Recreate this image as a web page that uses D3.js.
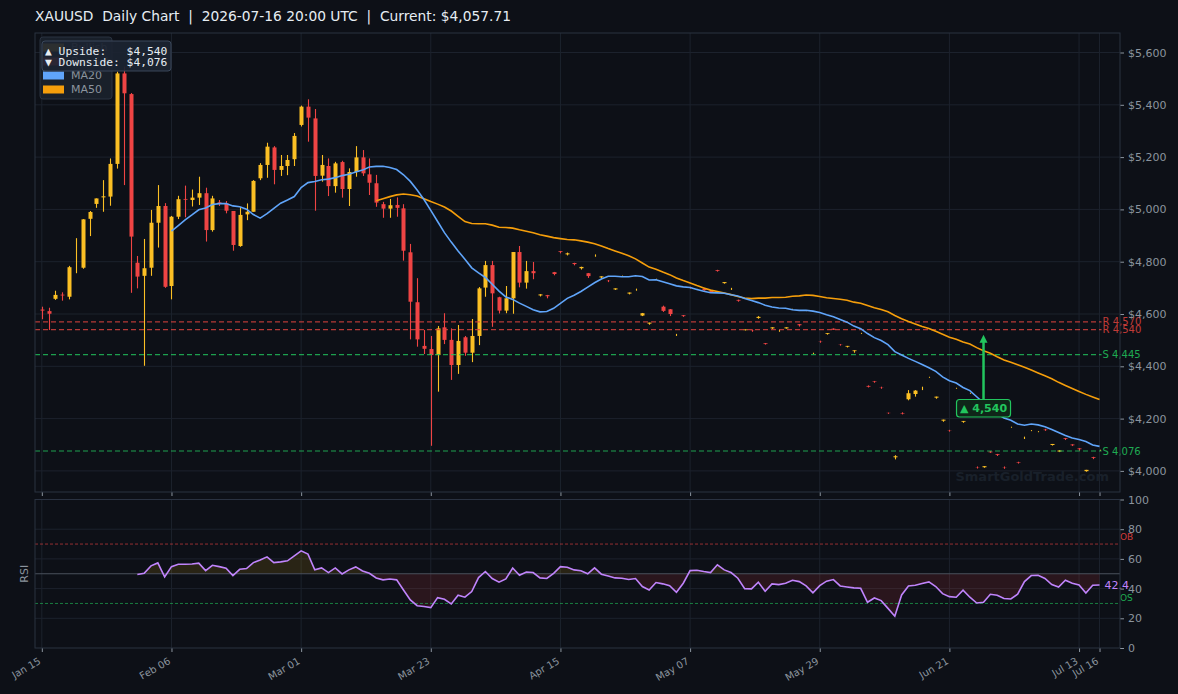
<!DOCTYPE html>
<html><head><meta charset="utf-8">
<script src="https://cdn.jsdelivr.net/npm/d3@7"></script>
<style>
html,body{margin:0;padding:0;background:#0d1017;}
svg{display:block;font-family:"DejaVu Sans",sans-serif;}
</style></head><body>
<svg id="chart" width="1178" height="694"></svg>
<script>
// ---------- DATA ----------
const tickIndex  = [0, 19, 38, 57, 76, 95, 114, 133, 152, 155];
const tickLabels = ["Jan 15","Feb 06","Mar 01","Mar 23","Apr 15","May 07","May 29","Jun 21","Jul 13","Jul 16"];
const priceTicks = [4000, 4200, 4400, 4600, 4800, 5000, 5200, 5400, 5600];
const rsiTicks   = [0, 20, 40, 60, 80, 100];

const opens = [
4617,4611,4658,4674,4666,4770,4777,4964,5021,5046,
5049,5174,5520,5441,4796,4746,4777,4949,5013,4707,
4972,5040,5036,5045,5062,4921,5027,5023,4994,4860,
4981,4991,5119,5170,5237,5151,5166,5192,5323,5393,
5348,5129,5166,5089,5181,5078,5143,5199,5134,5100,
5020,5003,5017,5004,4836,4645,4478,4466,4443,4549,
4501,4405,4511,4452,4516,4701,4787,4664,4613,4660,
4837,4720,4764,4671,4672,4760,4840,4828,4795,4775,
4756,4823,4740,4727,4694,4745,4678,4693,4594,4563,
4733,4628,4618,4520,4595,4701,4694,4697,4689,4768,
4718,4696,4654,4538,4537,4585,4488,4545,4536,4545,
4618,4561,4613,4450,4495,4524,4544,4483,4475,4458,
4526,4325,4343,4320,4222,4052,4221,4274,4294,4315,
4358,4280,4192,4155,4316,4188,4297,4014,4014,4074,
4064,4013,4167,4033,4127,4154,4150,4158,4099,4074,
4125,4101,4086,3999,4053,4079];
const highs = [
4628,4624,4689,4683,4784,4890,4963,4994,5042,5112,
5195,5527,5546,5445,4822,4887,4998,5093,5024,4975,
5052,5091,5076,5125,5083,5052,5036,5032,4994,5008,
5023,5112,5177,5255,5242,5208,5208,5292,5397,5421,
5384,5208,5195,5182,5186,5157,5242,5227,5195,5132,
5029,5040,5046,5020,4868,4737,4539,4516,4554,4603,
4545,4558,4516,4581,4703,4803,4803,4666,4707,4837,
4860,4803,4799,4676,4673,4761,4841,4835,4796,4781,
4757,4828,4744,4730,4698,4747,4682,4697,4604,4567,
4735,4632,4619,4524,4596,4704,4696,4698,4690,4769,
4722,4700,4655,4541,4541,4592,4489,4549,4540,4549,
4620,4562,4615,4452,4498,4527,4545,4485,4478,4461,
4528,4327,4344,4322,4223,4060,4224,4309,4309,4322,
4360,4284,4196,4157,4318,4191,4299,4017,4018,4076,
4065,4017,4169,4035,4131,4156,4152,4161,4103,4080,
4126,4102,4087,4004,4054,4081];
const lows = [
4580,4539,4654,4651,4656,4756,4773,4898,5006,4991,
5014,5156,5093,4681,4698,4402,4746,4854,4700,4656,
4963,4970,5011,5017,4877,4915,5013,4985,4842,4857,
4959,4991,5112,5121,5096,5128,5131,5166,5317,5259,
4995,5106,5051,5064,5045,5013,5125,5128,5055,5010,
4968,4968,4972,4804,4503,4475,4447,4096,4303,4485,
4348,4371,4440,4416,4481,4666,4551,4602,4603,4601,
4702,4697,4733,4667,4660,4748,4832,4824,4786,4770,
4738,4819,4736,4722,4692,4743,4675,4689,4592,4559,
4731,4608,4592,4516,4589,4697,4692,4689,4681,4762,
4716,4692,4647,4537,4532,4582,4483,4543,4532,4544,
4616,4552,4611,4447,4490,4521,4539,4479,4472,4452,
4524,4319,4337,4314,4218,4044,4216,4270,4284,4309,
4356,4276,4188,4150,4314,4184,4295,4009,4012,4069,
4057,4008,4165,4028,4122,4152,4148,4153,4097,4072,
4118,4095,4077,3997,4045,4077];
const closes = [
4613,4601,4673,4671,4779,4770,4962,4990,5042,5050,
5174,5520,5444,4896,4743,4775,4949,5013,4704,4972,
5039,5037,5045,5062,4921,5042,5024,4995,4864,4979,
4991,5109,5170,5240,5151,5166,5189,5281,5393,5351,
5128,5170,5089,5176,5078,5143,5199,5138,5102,5026,
5003,5016,5006,4842,4647,4503,4467,4443,4545,4501,
4405,4497,4452,4516,4698,4787,4679,4613,4660,4837,
4720,4764,4756,4675,4668,4753,4837,4832,4791,4780,
4745,4823,4744,4726,4698,4745,4682,4693,4603,4567,
4733,4612,4600,4520,4592,4700,4694,4691,4683,4765,
4722,4696,4651,4541,4536,4589,4485,4549,4536,4549,
4618,4557,4613,4450,4494,4527,4540,4482,4478,4461,
4526,4322,4341,4319,4221,4056,4219,4297,4307,4315,
4358,4284,4196,4154,4316,4191,4297,4013,4018,4071,
4061,4012,4167,4031,4127,4154,4150,4156,4103,4078,
4122,4098,4083,4004,4050,4079];

const rsiStart = 14;
const rsiValues = [
49.5,50.3,55.3,57.3,47.9,54.8,56.4,56.4,56.6,57.1,
52.1,55.7,54.8,53.7,48.8,53.0,53.5,57.5,59.3,61.4,
57.5,58.0,58.7,62.0,65.4,63.2,52.6,53.9,50.8,53.9,
49.9,52.6,54.6,51.9,50.3,47.2,45.9,46.5,45.9,39.1,
32.4,28.5,27.9,27.2,33.9,32.8,29.7,35.5,34.2,38.0,
47.4,51.5,46.8,44.3,46.5,53.9,49.0,51.2,50.8,47.2,
46.8,50.3,54.8,54.4,52.6,52.0,50.0,54.0,49.7,48.5,
47.2,47.0,46.1,46.8,41.4,39.1,44.1,43.2,42.0,37.5,
43.6,52.1,52.4,51.5,50.8,56.0,52.6,50.8,47.0,40.0,
39.8,44.3,38.2,43.2,42.7,43.6,45.6,44.7,41.8,37.1,
42.0,45.0,46.1,41.8,41.1,40.5,40.2,30.8,33.7,31.9,
26.7,21.4,35.7,41.8,42.3,43.4,44.5,41.4,36.6,34.6,
34.2,38.9,34.2,30.3,30.8,36.2,35.5,33.3,33.0,36.2,
44.7,48.8,49.0,46.8,42.7,41.1,45.6,43.6,42.5,37.1,
42.3,42.4];

const levelValues = [4570, 4540, 4445, 4076];
const levelLabels = ["R 4,570", "R 4,540", "S 4,445", "S 4,076"];
const levelKinds  = ["R", "R", "S", "S"];

const upsideTarget = 4540, downsideTarget = 4076;
const titleText = "XAUUSD  Daily Chart  |  2026-07-16 20:00 UTC  |  Current: $4,057.71";

// ---------- STYLE ----------
const C = {
  bg:"#0d1017", grid:"#1c222d", border:"#2a3241", axis:"#8b949e", title:"#e6edf3",
  bull:"#fbbf24", bear:"#ef4444", ma20:"#60a5fa", ma50:"#f59e0b", rsi:"#c084fc",
  res:"#e0443f", sup:"#22c55e"
};
const svg = d3.select("#chart");
const L = 35, R = 1120, T = 33, B = 492, RT = 499.5, RB = 648;

const x  = d3.scaleLinear().domain([-1, 158]).range([L, R]);
const y  = d3.scaleLinear().domain([3919.3, 5674.6]).range([B, T]);
const yr = d3.scaleLinear().domain([0, 100]).range([RB, RT]);

svg.append("rect").attr("width",1178).attr("height",694).attr("fill",C.bg);

// title
svg.append("text").attr("x",35).attr("y",21).attr("fill",C.title)
  .style("white-space","pre").attr("font-size",13.8).text(titleText);

// ---------- MAIN PANEL ----------
const gMain = svg.append("g");
gMain.selectAll(".hg").data(priceTicks).join("line")
  .attr("x1",L).attr("x2",R).attr("y1",d=>y(d)).attr("y2",d=>y(d))
  .attr("stroke",C.grid).attr("stroke-width",1);
gMain.selectAll(".vg").data(tickIndex).join("line")
  .attr("x1",d=>x(d)).attr("x2",d=>x(d)).attr("y1",T).attr("y2",B)
  .attr("stroke",C.grid).attr("stroke-width",1);

// watermark
svg.append("text").attr("x",1109).attr("y",481).attr("text-anchor","end")
  .attr("font-size",13).attr("font-weight","bold").attr("fill","#19202a").text("SmartGoldTrade.com");

// candles
const idx = d3.range(closes.length);
const bodyW = 4;
const gC = svg.append("g");
gC.selectAll(".wick").data(idx).join("line")
  .attr("x1",i=>Math.round(x(i))+0.5).attr("x2",i=>Math.round(x(i))+0.5)
  .attr("y1",i=>y(highs[i])).attr("y2",i=>y(lows[i]))
  .attr("stroke",i=>closes[i]>=opens[i]?C.bull:C.bear).attr("stroke-width",1.1);
gC.selectAll(".body").data(idx).join("rect")
  .attr("x",i=>Math.round(x(i))+0.5-bodyW/2).attr("width",bodyW)
  .attr("y",i=>y(Math.max(opens[i],closes[i])))
  .attr("height",i=>Math.abs(y(opens[i])-y(closes[i])))
  .attr("fill",i=>closes[i]>=opens[i]?C.bull:C.bear);

// level lines
const lastX = x(closes.length-1)+2;
levelValues.forEach((v,k)=>{
  const col = levelKinds[k]==="R"?C.res:C.sup;
  svg.append("line").attr("x1",L).attr("x2",lastX).attr("y1",y(v)).attr("y2",y(v))
    .attr("stroke",col).attr("stroke-width",1.2).attr("stroke-dasharray","5,3").attr("opacity",0.8);
  svg.append("text").attr("x",lastX+1).attr("y",y(v)).attr("dy","0.35em")
    .attr("font-size",10).attr("fill",col).attr("opacity",0.85).text(levelLabels[k]);
});

// moving averages
function sma(arr,n){ return arr.map((_,i)=> i<n-1?null: d3.mean(arr.slice(i-n+1,i+1))); }
const ma20 = sma(closes,20), ma50 = sma(closes,50);
const maLine = d3.line().defined(d=>d[1]!==null).x(d=>x(d[0])).y(d=>y(d[1]));
svg.append("path").attr("d",maLine(ma50.map((v,i)=>[i,v]))).attr("fill","none")
  .attr("stroke",C.ma50).attr("stroke-width",1.6);
svg.append("path").attr("d",maLine(ma20.map((v,i)=>[i,v]))).attr("fill","none")
  .attr("stroke",C.ma20).attr("stroke-width",1.6);

// axes main
const axR = svg.append("g").attr("transform",`translate(${R},0)`)
  .call(d3.axisRight(y).tickValues(priceTicks).tickSize(4).tickPadding(4)
    .tickFormat(d=>"$"+d3.format(",")(d)));
axR.select(".domain").remove();
axR.selectAll("line").attr("stroke",C.axis);
axR.selectAll("text").attr("fill",C.axis).attr("font-size",11).attr("font-family","DejaVu Sans");

const axMB = svg.append("g").attr("transform",`translate(0,${B})`)
  .call(d3.axisBottom(x).tickValues(tickIndex).tickSize(4).tickFormat(""));
axMB.select(".domain").remove();
axMB.selectAll("line").attr("stroke",C.axis);

svg.append("rect").attr("x",L).attr("y",T).attr("width",R-L).attr("height",B-T)
  .attr("fill","none").attr("stroke",C.border);

// arrow annotation
const ax = x(138);
const arrowTop = y(upsideTarget)+5, arrowBot = 399.5;
svg.append("line").attr("x1",ax).attr("x2",ax).attr("y1",arrowBot).attr("y2",arrowTop+6)
  .attr("stroke",C.sup).attr("stroke-width",2.5);
svg.append("path").attr("d",`M${ax},${arrowTop} L${ax-4},${arrowTop+8} L${ax+4},${arrowTop+8} Z`)
  .attr("fill",C.sup);
svg.append("rect").attr("x",ax-27).attr("y",399.5).attr("width",54).attr("height",17.5).attr("rx",3)
  .attr("fill","#0f2619").attr("stroke",C.sup).attr("stroke-width",1.2);
svg.append("text").attr("x",ax).attr("y",408.5).attr("dy","0.36em").attr("text-anchor","middle")
  .attr("font-size",11).attr("font-weight","bold").attr("fill",C.sup)
  .text("▲ "+d3.format(",")(upsideTarget));

// legend
const legendNames = ["Bullish","Bearish","MA20","MA50"];
const legendColors = [C.bull, C.bear, C.ma20, C.ma50];
svg.append("rect").attr("x",40).attr("y",37).attr("width",72).attr("height",62).attr("rx",3)
  .attr("fill","#19202a").attr("stroke","#2a3240");
legendNames.forEach((n,k)=>{
  const cy = 47.5 + k*14;
  svg.append("rect").attr("x",43).attr("y",cy-4).attr("width",21).attr("height",8).attr("fill",legendColors[k]);
  svg.append("text").attr("x",71).attr("y",cy).attr("dy","0.35em").attr("font-size",11)
    .attr("fill",C.axis).text(n);
});
// target box
svg.append("rect").attr("x",42).attr("y",41).attr("width",129).attr("height",30).attr("rx",3)
  .attr("fill","#1c2431").attr("fill-opacity",0.93).attr("stroke","#3a475a");
const boxLines = ["▲ Upside:   $"+d3.format(",")(upsideTarget), "▼ Downside: $"+d3.format(",")(downsideTarget)];
boxLines.forEach((t,k)=>{
  svg.append("text").attr("x",45).attr("y",50.7+k*11.6).attr("dy","0.35em")
    .attr("font-family","DejaVu Sans Mono").attr("font-size",11.3).attr("fill",C.title)
    .style("white-space","pre").text(t);
});

// ---------- RSI PANEL ----------
svg.selectAll(".rg").data([20,40,60,80]).join("line")
  .attr("x1",L).attr("x2",R).attr("y1",d=>yr(d)).attr("y2",d=>yr(d))
  .attr("stroke",C.grid);
svg.selectAll(".rvg").data(tickIndex).join("line")
  .attr("x1",d=>x(d)).attr("x2",d=>x(d)).attr("y1",RT).attr("y2",RB)
  .attr("stroke",C.grid);

const rsiData = rsiValues.map((v,k)=>[k+rsiStart, v]);
const defs = svg.append("defs");
defs.append("clipPath").attr("id","clipUp").append("rect")
  .attr("x",L).attr("y",RT).attr("width",R-L).attr("height",yr(50)-RT);
defs.append("clipPath").attr("id","clipDn").append("rect")
  .attr("x",L).attr("y",yr(50)).attr("width",R-L).attr("height",RB-yr(50));
const area = d3.area().x(d=>x(d[0])).y0(yr(50)).y1(d=>yr(d[1]));
svg.append("path").attr("d",area(rsiData)).attr("fill","rgba(234,179,8,0.13)").attr("clip-path","url(#clipUp)");
svg.append("path").attr("d",area(rsiData)).attr("fill","rgba(239,68,68,0.13)").attr("clip-path","url(#clipDn)");

svg.append("line").attr("x1",L).attr("x2",R).attr("y1",yr(50)).attr("y2",yr(50))
  .attr("stroke","#4a505c").attr("stroke-width",1);
svg.append("line").attr("x1",L).attr("x2",R).attr("y1",yr(70)).attr("y2",yr(70))
  .attr("stroke",C.bear).attr("stroke-width",1).attr("stroke-dasharray","3,2").attr("opacity",0.6);
svg.append("line").attr("x1",L).attr("x2",R).attr("y1",yr(30)).attr("y2",yr(30))
  .attr("stroke",C.sup).attr("stroke-width",1).attr("stroke-dasharray","3,2").attr("opacity",0.6);

const rsiLine = d3.line().x(d=>x(d[0])).y(d=>yr(d[1]));
svg.append("path").attr("d",rsiLine(rsiData)).attr("fill","none")
  .attr("stroke",C.rsi).attr("stroke-width",1.6);

svg.append("text").attr("x",R).attr("y",yr(70)-7).attr("dy","0.35em").attr("font-size",9)
  .attr("fill",C.bear).attr("opacity",0.85).text("OB");
svg.append("text").attr("x",R).attr("y",yr(30)-6).attr("dy","0.35em").attr("font-size",9)
  .attr("fill",C.sup).attr("opacity",0.85).text("OS");
const lastRsi = rsiValues[rsiValues.length-1];
svg.append("text").attr("x",x(closes.length-1)+5).attr("y",yr(lastRsi)).attr("dy","0.35em")
  .attr("font-size",11).attr("fill",C.rsi).text(lastRsi.toFixed(1));

svg.append("text").attr("transform",`translate(24,${(RT+RB)/2}) rotate(-90)`)
  .attr("text-anchor","middle").attr("dy","0.35em").attr("font-size",11).attr("fill",C.axis).text("RSI");

const axRR = svg.append("g").attr("transform",`translate(${R},0)`)
  .call(d3.axisRight(yr).tickValues(rsiTicks).tickSize(4).tickPadding(4));
axRR.select(".domain").remove();
axRR.selectAll("line").attr("stroke",C.axis);
axRR.selectAll("text").attr("fill",C.axis).attr("font-size",11).attr("font-family","DejaVu Sans");

const axRB = svg.append("g").attr("transform",`translate(0,${RB})`)
  .call(d3.axisBottom(x).tickValues(tickIndex).tickSize(4).tickFormat(""));
axRB.select(".domain").remove();
axRB.selectAll("line").attr("stroke",C.axis);
svg.selectAll(".xl").data(tickIndex).join("text")
  .attr("transform",d=>`translate(${x(d)-2},${RB+12}) rotate(-30)`)
  .attr("text-anchor","end").attr("dy","0.35em").attr("font-size",10).attr("fill",C.axis)
  .text((d,k)=>tickLabels[k]);

svg.append("rect").attr("x",L).attr("y",RT).attr("width",R-L).attr("height",RB-RT)
  .attr("fill","none").attr("stroke",C.border);
</script>
</body></html>
